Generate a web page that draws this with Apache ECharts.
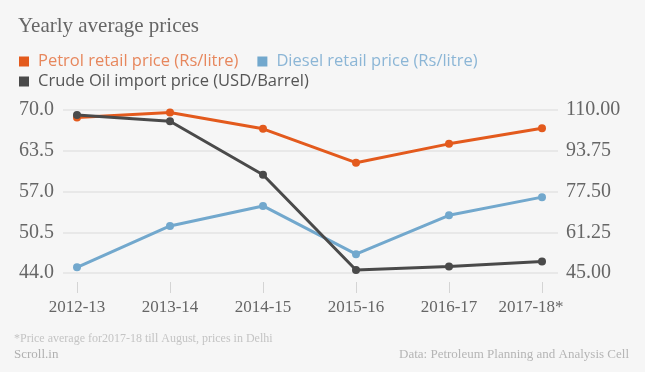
<!DOCTYPE html>
<html>
<head>
<meta charset="utf-8">
<script src="https://cdn.jsdelivr.net/npm/echarts@6/dist/echarts.min.js"></script>
<style>
html,body{margin:0;padding:0;background:#f6f6f6;}
#chart{width:645px;height:372px;}
</style>
</head>
<body>
<div id="chart"></div>
<script>
const categories = ['2012-13', '2013-14', '2014-15', '2015-16', '2016-17', '2017-18*'];
const petrol = [68.8, 69.6, 67.0, 61.6, 64.6, 67.1];
const diesel = [44.9, 51.5, 54.7, 47.0, 53.2, 56.1];
const crude = [108.0, 105.5, 84.2, 46.2, 47.6, 49.6];
const leftTicks = { min: 44, max: 70, interval: 6.5 };
const rightTicks = { min: 45, max: 110, interval: 16.25 };

const serif = '"Liberation Serif", "DejaVu Serif", serif';
const sans = '"Open Sans", "Noto Sans", sans-serif';
const C_PETROL = '#e35a1d', C_DIESEL = '#72a8cd', C_CRUDE = '#4a4a4a';

const chart = echarts.init(document.getElementById('chart'), null, { renderer: 'canvas' });
chart.setOption({
  backgroundColor: '#f6f6f6',
  animation: false,
  title: {
    text: 'Yearly average prices', left: 13, top: 11,
    textStyle: { fontFamily: serif, fontSize: 21, fontWeight: 'normal', color: '#666' }
  },
  legend: [
    {
      left: 14, top: 48, itemWidth: 10, itemHeight: 10, itemGap: 19, icon: 'rect',
      textStyle: { fontFamily: sans, fontSize: 16.5, padding: [0, 0, 0, 4] },
      data: [
        { name: 'Petrol retail price (Rs/litre)', textStyle: { color: '#e7875d' } },
        { name: 'Diesel retail price (Rs/litre)', textStyle: { color: '#8cb6d6' } }
      ]
    },
    {
      left: 14, top: 68, itemWidth: 10, itemHeight: 10, icon: 'rect',
      textStyle: { fontFamily: sans, fontSize: 16.5, padding: [0, 0, 0, 4], color: '#555' },
      data: [{ name: 'Crude Oil import price (USD/Barrel)' }]
    }
  ],
  grid: [
    { left: 63, right: 87, top: 110, bottom: 99 },
    { left: 77, right: 103, top: 110, bottom: 99 },
    { left: 77, right: 103, top: 282, bottom: 79 }
  ],
  xAxis: [
    { gridIndex: 0, type: 'value', show: false, min: 0, max: 1 },
    {
      gridIndex: 1, type: 'category', boundaryGap: false, offset: 9,
      data: categories.map((c, i) => i === categories.length - 1
        ? { value: c, textStyle: { padding: [0, 22, 0, 0] } } : c),
      axisLine: { show: false },
      axisTick: { show: false },
      axisLabel: { margin: 17, fontFamily: serif, fontSize: 17, color: '#666' }
    },
    {
      gridIndex: 2, type: 'category', boundaryGap: false, data: categories,
      axisLine: { show: false }, axisTick: { show: false }, axisLabel: { show: false },
      splitLine: { show: true, interval: 0, lineStyle: { color: '#d4d4d4', width: 1 } }
    }
  ],
  yAxis: [
    {
      gridIndex: 0, type: 'value', position: 'left', min: leftTicks.min, max: leftTicks.max, interval: leftTicks.interval,
      axisLine: { show: false }, axisTick: { show: false },
      splitLine: { lineStyle: { color: '#e3e3e3', width: 1.5 } },
      axisLabel: { margin: 9, fontFamily: serif, fontSize: 20, color: '#666', formatter: v => v.toFixed(1) }
    },
    {
      gridIndex: 0, type: 'value', position: 'right', min: rightTicks.min, max: rightTicks.max, interval: rightTicks.interval,
      axisLine: { show: false }, axisTick: { show: false }, splitLine: { show: false },
      axisLabel: { margin: 8, fontFamily: serif, fontSize: 20, color: '#666', formatter: v => v.toFixed(2) }
    },
    { gridIndex: 1, type: 'value', show: false, min: leftTicks.min, max: leftTicks.max, splitLine: { show: false } },
    { gridIndex: 1, type: 'value', show: false, position: 'right', min: rightTicks.min, max: rightTicks.max, splitLine: { show: false } },
    { gridIndex: 2, type: 'value', show: false, min: 0, max: 1, splitLine: { show: false } }
  ],
  series: [
    {
      name: 'Petrol retail price (Rs/litre)', type: 'line', xAxisIndex: 1, yAxisIndex: 2, data: petrol,
      color: C_PETROL, symbol: 'circle', symbolSize: 8, lineStyle: { width: 3 }
    },
    {
      name: 'Diesel retail price (Rs/litre)', type: 'line', xAxisIndex: 1, yAxisIndex: 2, data: diesel,
      color: C_DIESEL, symbol: 'circle', symbolSize: 8, lineStyle: { width: 3 }
    },
    {
      name: 'Crude Oil import price (USD/Barrel)', type: 'line', xAxisIndex: 1, yAxisIndex: 3, data: crude,
      color: C_CRUDE, symbol: 'circle', symbolSize: 8, lineStyle: { width: 3 }
    }
  ],
  graphic: [
    { type: 'text', left: 14, top: 333, style: { text: '*Price average for2017-18 till August, prices in Delhi', font: '12px ' + serif, fill: '#c4c4c4' } },
    { type: 'text', left: 14, top: 348, style: { text: 'Scroll.in', font: '13px ' + serif, fill: '#b0b0b0' } },
    { type: 'text', right: 16, top: 348, style: { text: 'Data: Petroleum Planning and Analysis Cell', font: '13px ' + serif, fill: '#b5b5b5' } }
  ]
});
</script>
</body>
</html>
